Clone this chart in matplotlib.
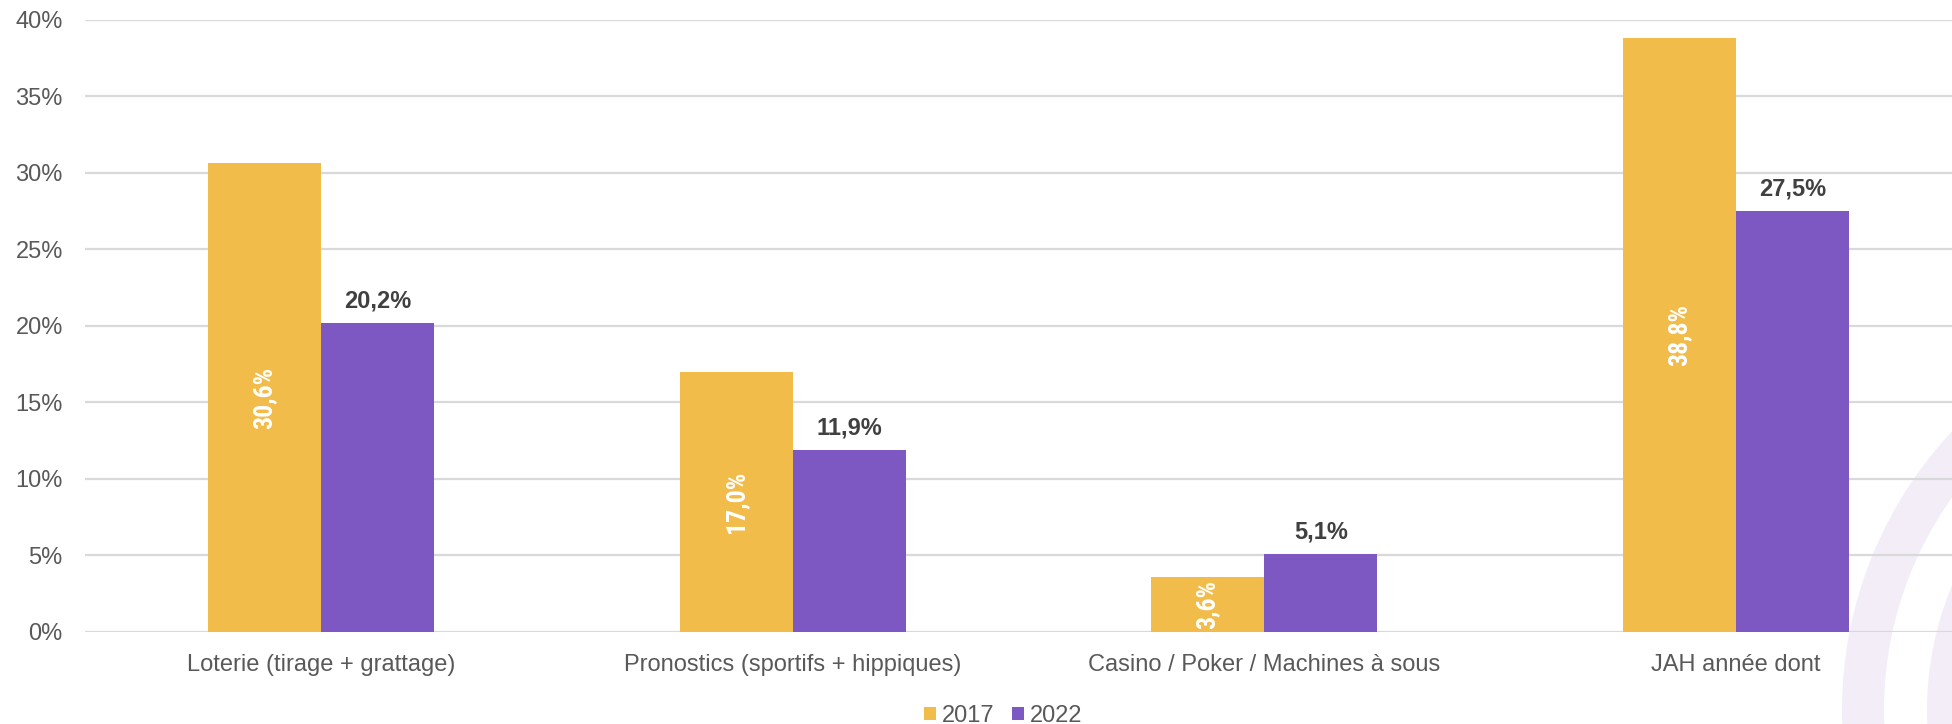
import matplotlib
matplotlib.use("Agg")
import matplotlib.pyplot as plt
from matplotlib import font_manager
from matplotlib.patches import Patch, Wedge
import numpy as np

categories = ["Loterie (tirage + grattage)", "Pronostics (sportifs + hippiques)",
              "Casino / Poker / Machines à sous", "JAH année dont"]
series_names = ["2017", "2022"]
values_2017 = [30.6, 17.0, 3.6, 38.8]
values_2022 = [20.2, 11.9, 5.1, 27.5]
labels_2017 = ["30,6%", "17,0%", "3,6%", "38,8%"]
labels_2022 = ["20,2%", "11,9%", "5,1%", "27,5%"]
yticks = [0, 5, 10, 15, 20, 25, 30, 35, 40]
ytick_labels = ["0%", "5%", "10%", "15%", "20%", "25%", "30%", "35%", "40%"]

C_2017 = "#F2BC4A"
C_2022 = "#7E58C2"
GRID = "#D9D9D9"
TXT = "#595959"
LBL = "#404040"

# pick a condensed bold font if available
cond = None
for f in font_manager.fontManager.ttflist:
    n = f.name
    if ("Narrow" in n or "Condensed" in n) and cond is None:
        cond = n
for f in font_manager.fontManager.ttflist:
    if f.name in ("Liberation Sans Narrow", "Roboto Condensed"):
        cond = f.name
cond_family = [cond, "Roboto"] if cond else ["Roboto"]

plt.rcParams['font.family'] = ['Liberation Sans', 'DejaVu Sans']

W, H = 1952, 724
fig = plt.figure(figsize=(W / 100, H / 100), dpi=100)

# decorative arcs bottom right (figure pixel coords)
bg = fig.add_axes([0, 0, 1, 1], zorder=0)
bg.set_xlim(0, W)
bg.set_ylim(H, 0)
bg.axis("off")
cx, cy = 2250, 710
for r_out, r_in in [(408, 366), (323, 281)]:
    bg.add_patch(Wedge((cx, cy), r_out, 0, 360, width=r_out - r_in,
                       facecolor="#F3EDF8", edgecolor="none"))

left_px, right_px = 85, 1952
bottom_px, top_px = 632, 19.5
ax = fig.add_axes([left_px / W, (H - bottom_px) / H,
                   (right_px - left_px) / W, (bottom_px - top_px) / H], zorder=1)
ax.patch.set_alpha(0)

spacing = 471.7
x = np.arange(len(categories))
bw = 113 / spacing
ax.bar(x - bw / 2, values_2017, bw, color=C_2017, zorder=3, label=series_names[0])
ax.bar(x + bw / 2, values_2022, bw, color=C_2022, zorder=3, label=series_names[1])

ax.set_xlim(-0.5, -0.5 + (right_px - left_px) / spacing)
ax.set_ylim(0, 40)
ax.set_yticks(yticks)
ax.set_yticklabels(ytick_labels)
ax.set_xticks(x)
ax.set_xticklabels(categories)
ax.tick_params(axis="both", length=0, labelsize=17, labelcolor=TXT)
ax.tick_params(axis="x", pad=16)
ax.tick_params(axis="y", pad=16)
ax.yaxis.grid(True, color=GRID, linewidth=1.6, zorder=0)
ax.set_axisbelow(True)
for s in ax.spines.values():
    s.set_visible(False)

for xi, v, lab in zip(x, values_2017, labels_2017):
    ax.text(xi - bw / 2, v / 2, lab, rotation=90, ha="center", va="center",
            color="white", fontsize=18.5, fontweight="bold", family=cond_family, zorder=4)
for xi, v, lab in zip(x, values_2022, labels_2022):
    ax.annotate(lab, (xi + bw / 2, v), xytext=(0, 7.5), textcoords="offset points",
                ha="center", va="bottom", color=LBL, fontsize=17, fontweight="bold", zorder=4)

handles = [Patch(facecolor=C_2017, edgecolor="none"), Patch(facecolor=C_2022, edgecolor="none")]
fig.legend(handles, series_names, loc="center", bbox_to_anchor=(1003 / W, 8 / H),
           ncol=2, frameon=False, fontsize=17, labelcolor=TXT,
           handlelength=0.5, handleheight=0.5, handletextpad=0.25,
           columnspacing=0.75, borderpad=0)

fig.savefig("out.png", dpi=100)
